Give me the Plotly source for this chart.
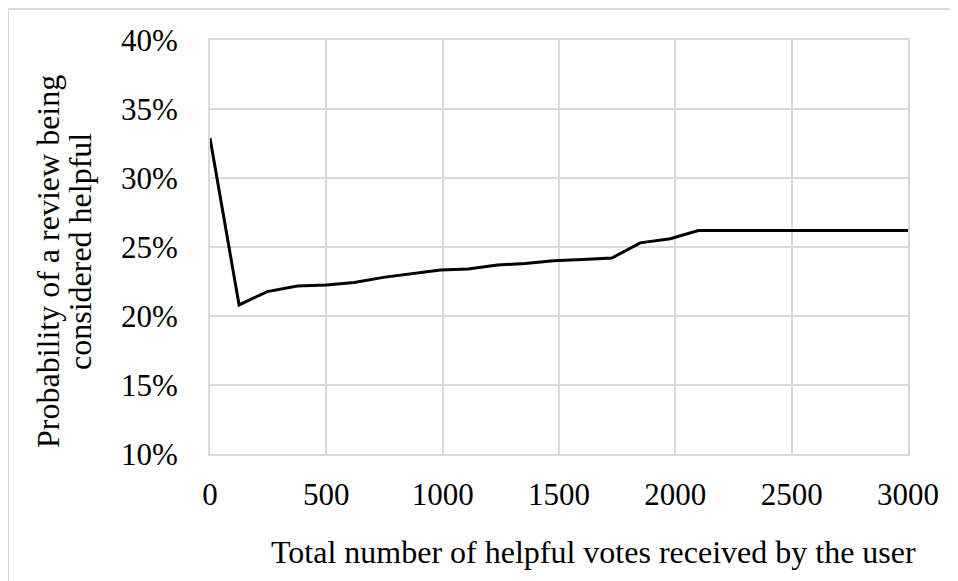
import plotly.graph_objects as go

# Data
votes = [0, 125, 246, 375, 500, 620, 745, 870, 990, 1110, 1235, 1355, 1476, 1600, 1727, 1849, 1978, 2099, 3000]
probability = [0.329, 0.208, 0.2177, 0.2218, 0.2225, 0.2242, 0.228, 0.2308, 0.2334, 0.234, 0.237, 0.238, 0.240, 0.241, 0.242, 0.253, 0.256, 0.262, 0.262]

x_title = "Total number of helpful votes received by the user"
y_title_lines = ["Probability of a review being", "considered helpful"]

# The page body has an 8px margin; work in page pixels and convert.
OFF = 8
W, H = 958 - OFF, 581 - OFF
PL, PR, PT, PB = 210, 908, 40, 454  # plot area in page pixels
L, T = PL - OFF, PT - OFF
R = W - (PR - OFF)
B = H - (PB - OFF)
PW, PH = PR - PL, PB - PT

def px(x):
    return (x - PL) / PW

def py(y):
    return (PB - y) / PH

FONT = "Liberation Serif"
GRID = "#d9d9d9"

fig = go.Figure()
fig.add_trace(go.Scatter(
    x=votes, y=probability, mode="lines",
    line=dict(color="black", width=3),
    showlegend=False, hoverinfo="skip",
))

fig.update_layout(
    width=W, height=H,
    margin=dict(l=L, r=R, t=T, b=B, autoexpand=False),
    paper_bgcolor="white", plot_bgcolor="white",
    font=dict(family=FONT, size=31, color="black"),
    xaxis=dict(
        range=[0, 3000], tick0=0, dtick=500, showgrid=True, gridcolor=GRID, gridwidth=2,
        showline=True, linecolor=GRID, linewidth=2, mirror=True, zeroline=False,
        ticks="", ticklabelstandoff=12,
        tickfont=dict(family=FONT, size=31, color="black"),
    ),
    yaxis=dict(
        range=[0.10, 0.40], tick0=0.10, dtick=0.05, tickformat=".0%",
        showgrid=True, gridcolor=GRID, gridwidth=2,
        showline=True, linecolor=GRID, linewidth=2, mirror=True, zeroline=False,
        ticks="", ticklabelstandoff=24,
        tickfont=dict(family=FONT, size=31, color="black"),
    ),
    shapes=[
        dict(type="line", xref="paper", yref="paper", x0=px(8), x1=px(960), y0=py(9), y1=py(9),
             line=dict(color=GRID, width=2)),
        dict(type="line", xref="paper", yref="paper", x0=px(8), x1=px(8), y0=py(9), y1=py(590),
             line=dict(color=GRID, width=2)),
    ],
    annotations=[
        dict(text=x_title, xref="paper", yref="paper", x=px(593), y=py(552),
             xanchor="center", yanchor="middle", showarrow=False,
             font=dict(family=FONT, size=32, color="black")),
        dict(text=y_title_lines[0], xref="paper", yref="paper", x=px(48), y=py(262),
             xanchor="center", yanchor="middle", textangle=-90, showarrow=False,
             font=dict(family=FONT, size=32, color="black")),
        dict(text=y_title_lines[1], xref="paper", yref="paper", x=px(80), y=py(252),
             xanchor="center", yanchor="middle", textangle=-90, showarrow=False,
             font=dict(family=FONT, size=32, color="black")),
    ],
)

fig.write_html("out.html")
